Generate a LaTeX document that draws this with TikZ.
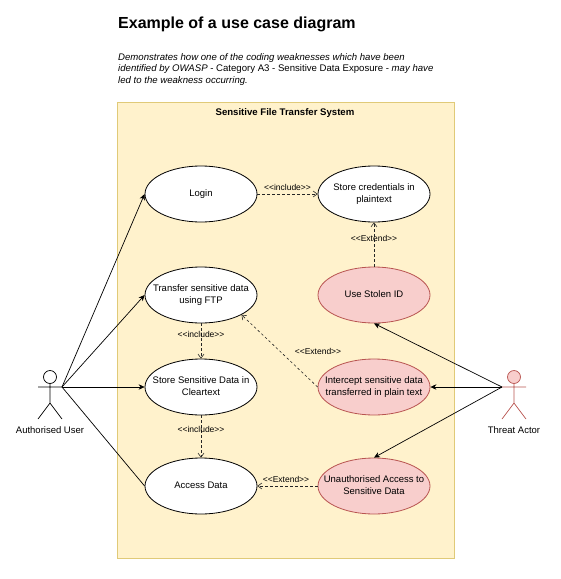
\documentclass[tikz,border=0pt]{standalone}
\usepackage{fontspec}
\setmainfont{Liberation Sans}
\usetikzlibrary{arrows.meta,shapes.geometric}
\definecolor{sysfill}{HTML}{FFF2CC}
\definecolor{sysdraw}{HTML}{E0CA78}
\definecolor{redfill}{HTML}{F8CECC}
\definecolor{reddraw}{HTML}{B85450}
\newcommand{\uctext}[1]{\makebox[0pt]{\raisebox{-1pt}{\begin{tabular}{@{}c@{}}#1\end{tabular}}}}
\tikzset{
  x=1pt,y=-1pt,
  usecase/.style={ellipse,draw=black,fill=white,line width=0.8pt,minimum width=112pt,minimum height=56pt,inner sep=0pt,font=\fontsize{9.5}{12}\selectfont},
  threat/.style={usecase,draw=reddraw,fill=redfill},
  assoc/.style={draw=black,line width=0.7pt,-{Stealth[length=6pt,width=5.5pt]}},
  plainassoc/.style={draw=black,line width=0.7pt},
  depend/.style={draw=black!85,line width=0.6pt,dash pattern=on 2.5pt off 2.5pt,-{Straight Barb[length=4pt,width=6pt]}},
  deplabel/.style={font=\fontsize{8.5}{10}\selectfont,inner sep=0pt},
  actorlabel/.style={font=\fontsize{9.5}{11}\selectfont,inner sep=0pt},
}
\begin{document}
\begin{tikzpicture}
\useasboundingbox (0,0) rectangle (561,579);
\node[anchor=base west,inner sep=0pt,font=\fontsize{16}{20}\selectfont\bfseries] (title) at (118,28) {Example of a use case diagram};
\node[anchor=north west,inner sep=0pt,align=left,font=\fontsize{9.6}{11.7}\selectfont] (desc) at (118,53) {\itshape Demonstrates how one of the coding weaknesses which have been\\\itshape identified by OWASP \upshape- Category A3 - Sensitive Data Exposure - \itshape may have\\\itshape led to the weakness occurring.};
\node[draw=sysdraw,fill=sysfill,line width=0.8pt,minimum width=337pt,minimum height=456pt,inner sep=0pt,anchor=north west] (system) at (117,102) {};
\node[font=\fontsize{9.6}{12}\selectfont\bfseries,inner sep=0pt] (systitle) at (285,113) {Sensitive File Transfer System};

\node[usecase] (login) at (201,194) {\uctext{Login}};
\node[usecase] (cred) at (374,194) {\uctext{Store credentials in\\plaintext}};
\node[usecase] (ftp) at (201,295) {\uctext{Transfer sensitive data\\using FTP}};
\node[threat] (stolen) at (374,295) {\uctext{Use Stolen ID}};
\node[usecase] (clear) at (201,387) {\uctext{Store Sensitive Data in\\Cleartext}};
\node[threat] (intercept) at (374,387) {\uctext{Intercept sensitive data\\transferred in plain text}};
\node[usecase] (access) at (201,486) {\uctext{Access Data}};
\node[threat] (unauth) at (374,486) {\uctext{Unauthorised Access to\\Sensitive Data}};

% Authorised user
\node[circle,draw=black,fill=white,line width=0.7pt,minimum size=13pt,inner sep=0pt] (uhead) at (50,377) {};
\coordinate (uhand) at (62,387);
\coordinate (uhandl) at (38,387);
\coordinate (uhip) at (50,403);
\coordinate (ufootl) at (38,419);
\coordinate (ufootr) at (62,419);
\draw[line width=0.7pt] (uhead.south) -- (uhip) (uhandl) -- (uhand) (ufootl) -- (uhip) -- (ufootr);
\node[actorlabel] (ulabel) at (50,430) {Authorised User};
% Threat actor
\node[circle,draw=reddraw,fill=redfill,line width=0.7pt,minimum size=13pt,inner sep=0pt] (thead) at (514,377) {};
\coordinate (thand) at (502,387);
\coordinate (thandr) at (526,387);
\coordinate (thip) at (514,403);
\coordinate (tfootl) at (502,419);
\coordinate (tfootr) at (526,419);
\draw[draw=reddraw,line width=0.7pt] (thead.south) -- (thip) (thand) -- (thandr) (tfootl) -- (thip) -- (tfootr);
\node[actorlabel] (tlabel) at (514,430) {Threat Actor};

\draw[assoc] (uhand) -- (login.west);
\draw[assoc] (uhand) -- (ftp.west);
\draw[assoc] (uhand) -- (clear.west);
\draw[plainassoc] (uhand) -- (access.west);
\draw[assoc] (thand) -- (stolen.south);
\draw[assoc] (thand) -- (intercept.east);
\draw[assoc] (thand) -- (unauth.north);

\draw[depend] (login.east) -- (cred.west);
\draw[depend] (stolen.north) -- (cred.south);
\draw[depend] (ftp.south) -- (clear.north);
\draw[depend] (clear.south) -- (access.north);
\draw[depend] (intercept.west) -- (ftp.-26.6);
\draw[depend] (unauth.west) -- (access.east);

\node[deplabel] (l1) at (287.5,187) {<{}<include>{}>};
\node[deplabel] (l2) at (374,238) {<{}<Extend>{}>};
\node[deplabel] (l3) at (201,334) {<{}<include>{}>};
\node[deplabel] (l4) at (318,351) {<{}<Extend>{}>};
\node[deplabel] (l5) at (201,429) {<{}<include>{}>};
\node[deplabel] (l6) at (286,479) {<{}<Extend>{}>};
\end{tikzpicture}
\end{document}
